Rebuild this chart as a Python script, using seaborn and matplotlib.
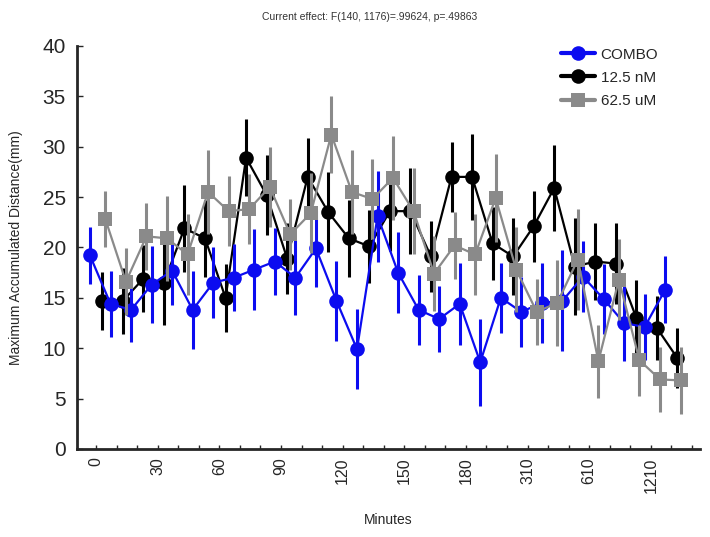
import numpy as np
import pandas as pd
import matplotlib
matplotlib.use('Agg')
import matplotlib.pyplot as plt
from matplotlib.lines import Line2D
import seaborn as sns

# 29 time points, only every third one carries a label
tick_labels = ['0', '30', '60', '90', '120', '150', '180', '310', '610', '1210']

combo = [19.2, 14.4, 13.8, 16.3, 17.7, 13.8, 16.5, 17.0, 17.8, 18.6, 17.0, 19.9, 14.7, 9.9, 23.1,
         17.5, 13.8, 12.9, 14.4, 8.6, 15.0, 13.6, 14.5, 14.7, 17.1, 14.9, 12.5, 12.1, 15.8]
combo_err = [2.8, 3.3, 3.2, 3.8, 3.4, 3.9, 3.5, 3.3, 4.0, 3.3, 3.7, 3.8, 4.0, 4.0, 4.5,
             4.0, 3.5, 3.3, 4.1, 4.3, 3.5, 3.5, 4.0, 5.0, 3.5, 3.5, 3.8, 3.3, 3.3]

nm125 = [14.7, 14.7, 16.9, 16.5, 21.9, 20.9, 15.0, 28.9, 25.2, 18.9, 27.0, 23.5, 20.9, 20.1, 23.6,
         23.6, 19.1, 27.0, 27.0, 20.4, 19.1, 22.1, 25.9, 18.1, 18.6, 18.4, 13.0, 12.0, 9.0]
nm125_err = [2.9, 3.3, 3.3, 4.2, 4.3, 3.8, 3.4, 3.8, 4.0, 3.5, 3.9, 4.0, 3.8, 3.6, 4.0,
             4.3, 3.5, 3.5, 4.3, 3.6, 3.8, 3.5, 4.3, 4.8, 3.8, 4.0, 3.8, 3.2, 3.0]

um625 = [22.8, 16.6, 21.1, 20.9, 19.3, 25.5, 23.6, 23.8, 26.0, 21.3, 23.4, 31.2, 25.5, 24.8, 26.9,
         23.6, 17.4, 20.2, 19.3, 24.9, 17.8, 13.6, 14.5, 18.8, 8.7, 16.8, 8.8, 6.9, 6.8]
um625_err = [2.8, 3.3, 3.3, 4.2, 4.0, 4.2, 3.5, 3.5, 4.0, 3.5, 4.0, 3.8, 4.2, 4.0, 4.2,
             4.3, 3.7, 3.3, 4.0, 4.4, 4.2, 3.3, 4.3, 5.0, 3.6, 4.0, 3.5, 3.2, 3.3]

groups = ['COMBO', '12.5 nM', '62.5 uM']
colors = {'COMBO': '#0c0cf0', '12.5 nM': '#000000', '62.5 uM': '#8a8a8a'}
markers = {'COMBO': 'o', '12.5 nM': 'o', '62.5 uM': 's'}
shift = {'COMBO': -0.3, '12.5 nM': 0.3, '62.5 uM': 0.45}

frames = []
for g, vals, errs in zip(groups, [combo, nm125, um625], [combo_err, nm125_err, um625_err]):
    idx = np.arange(len(vals))
    frames.append(pd.DataFrame({'pos': idx + shift[g], 'value': vals, 'err': errs, 'group': g}))
df = pd.concat(frames, ignore_index=True)

sns.set_style('ticks')
plt.rcParams['font.family'] = ['Liberation Sans', 'DejaVu Sans']

fig = plt.figure(figsize=(7.1, 5.37), dpi=100)
ax = fig.add_axes([0.1085, 0.164, 0.8775, 0.7505])

# draw black first, then blue, then gray on top
for g, z in [('12.5 nM', 2), ('COMBO', 3), ('62.5 uM', 4)]:
    d = df[df['group'] == g]
    ax.errorbar(d['pos'], d['value'], yerr=d['err'], fmt='none', ecolor=colors[g],
                elinewidth=2.2, capsize=0, zorder=z)
    sns.lineplot(data=d, x='pos', y='value', color=colors[g], marker=markers[g],
                 markersize=10.5, markeredgewidth=0, linewidth=1.6, ax=ax, zorder=z,
                 legend=False)

ax.set_xlim(-0.93, 29.4)
ax.set_ylim(0, 40)
ax.set_yticks(np.arange(0, 41, 5))
ax.set_xticks(np.arange(0, 30), minor=True)
ax.set_xticks(np.arange(0, 30, 3))
ax.set_xticklabels(tick_labels, rotation=90, fontsize=11.5)
ax.tick_params(axis='y', labelsize=15, direction='in', length=4, width=1, pad=8)
ax.tick_params(axis='x', which='both', direction='in', length=3, width=1, pad=6)
for s in ['left', 'bottom']:
    ax.spines[s].set_linewidth(2)
sns.despine(ax=ax)

ax.set_xlabel('Minutes', fontsize=10, labelpad=15)
ax.set_ylabel('Maximum Accumulated Distance(mm)', fontsize=10, labelpad=14)
fig.text(0.52, 0.978, 'Current effect: F(140, 1176)=.99624, p=.49863',
         ha='center', va='top', fontsize=7.5, color='#333333')

handles = [Line2D([0], [0], color=colors[g], marker=markers[g], markersize=10.5,
                  linewidth=3, markeredgewidth=0) for g in groups]
ax.legend(handles, groups, loc='upper right', bbox_to_anchor=(0.955, 1.03), frameon=False,
          fontsize=11, handlelength=2.2, labelspacing=0.6, handletextpad=0.4)

fig.savefig('out.png', dpi=100)
